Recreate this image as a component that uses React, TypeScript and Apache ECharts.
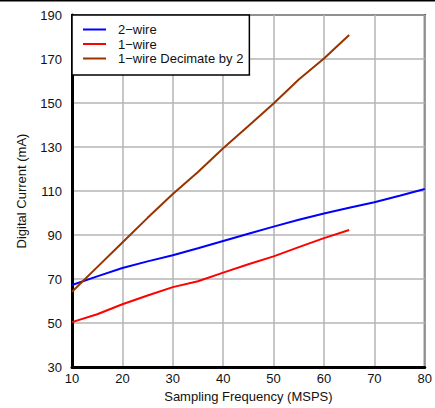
import React, { useEffect, useRef } from "react";
import * as echarts from "echarts";

const freqTwoWire = [10, 15, 20, 25, 30, 35, 40, 45, 50, 55, 60, 65, 70, 75, 80];
const twoWire = [67.3, 71.2, 75, 78, 80.8, 84, 87.3, 90.6, 93.8, 96.9, 99.8, 102.4, 104.9, 107.8, 110.9];

const freqOneWire = [10, 15, 20, 25, 30, 35, 40, 45, 50, 55, 60, 65];
const oneWire = [50.4, 54, 58.5, 62.5, 66.3, 69, 72.9, 76.7, 80.3, 84.5, 88.6, 92.3];

const freqDecimate = [10, 15, 20, 25, 30, 35, 40, 45, 50, 55, 60, 65];
const oneWireDecimate = [64.2, 75.4, 86.6, 97.8, 108.6, 118.6, 129.4, 139.5, 149.8, 160.7, 170.2, 180.9];

const seriesNames = ["2\u2212wire", "1\u2212wire", "1\u2212wire Decimate by 2"];
const seriesColors = ["#0000ff", "#ff0000", "#993300"];

const xTitle = "Sampling Frequency (MSPS)";
const yTitle = "Digital Current (mA)";

const FONT = "'Liberation Sans', Arial, sans-serif";

function pairs(xs: number[], ys: number[]) {
  return xs.map((x, i) => [x, ys[i]]);
}

export default function App() {
  const ref = useRef<HTMLDivElement>(null);
  useEffect(() => {
    if (!ref.current) return;
    const chart = echarts.init(ref.current, undefined, { renderer: "svg" });
    const data = [
      pairs(freqTwoWire, twoWire),
      pairs(freqOneWire, oneWire),
      pairs(freqDecimate, oneWireDecimate),
    ];
    chart.setOption({
      animation: false,
      backgroundColor: "#ffffff",
      textStyle: { fontFamily: FONT },
      grid: {
        left: 72,
        top: 15,
        width: 355,
        height: 355,
        show: true,
        borderColor: "#222222",
        borderWidth: 2,
        backgroundColor: "transparent",
      },
      legend: {
        left: 72,
        top: 15,
        orient: "vertical",
        data: seriesNames.map((n) => ({ name: n, icon: "path://M0,0H23V2H0Z" })),
        backgroundColor: "#ffffff",
        borderColor: "#000000",
        borderWidth: 1.5,
        borderRadius: 0,
        padding: [8, 6, 10, 11],
        itemWidth: 23,
        itemHeight: 14,
        itemGap: 1.5,
        textStyle: { fontFamily: FONT, fontSize: 13, color: "#111111", padding: [0, 0, 0, 7] },
        z: 10,
      },
      xAxis: {
        type: "value",
        min: 10,
        max: 80,
        interval: 10,
        name: xTitle,
        nameLocation: "middle",
        nameGap: 23,
        nameTextStyle: { fontFamily: FONT, fontSize: 13, color: "#111111" },
        axisLine: { show: true, onZero: false, lineStyle: { color: "#000000", width: 3 } },
        axisTick: { show: false },
        axisLabel: { fontFamily: FONT, fontSize: 13, color: "#111111", margin: 5 },
        splitLine: { show: true, lineStyle: { color: "#b4b4b4", width: 1.5 } },
      },
      yAxis: {
        type: "value",
        min: 30,
        max: 190,
        interval: 20,
        name: yTitle,
        nameLocation: "middle",
        nameGap: 44,
        nameTextStyle: { fontFamily: FONT, fontSize: 13, color: "#111111" },
        axisLine: { show: true, onZero: false, lineStyle: { color: "#000000", width: 3 } },
        axisTick: { show: false },
        axisLabel: { fontFamily: FONT, fontSize: 13, color: "#111111", margin: 10 },
        splitLine: { show: true, lineStyle: { color: "#b4b4b4", width: 1.5 } },
      },
      graphic: [
        {
          type: "rect",
          left: 0,
          top: 0,
          shape: { x: 0, y: 0, width: 435, height: 1.5 },
          style: { fill: "#000000" },
        },
      ],
      series: seriesNames.map((name, i) => ({
        name,
        type: "line",
        data: data[i],
        symbol: "none",
        smooth: false,
        color: seriesColors[i],
        lineStyle: { color: seriesColors[i], width: 2 },
      })),
    });
    return () => chart.dispose();
  }, []);
  return (
    <div
      ref={ref}
      style={{ position: "fixed", left: 0, top: 0, width: 435, height: 408 }}
    />
  );
}
